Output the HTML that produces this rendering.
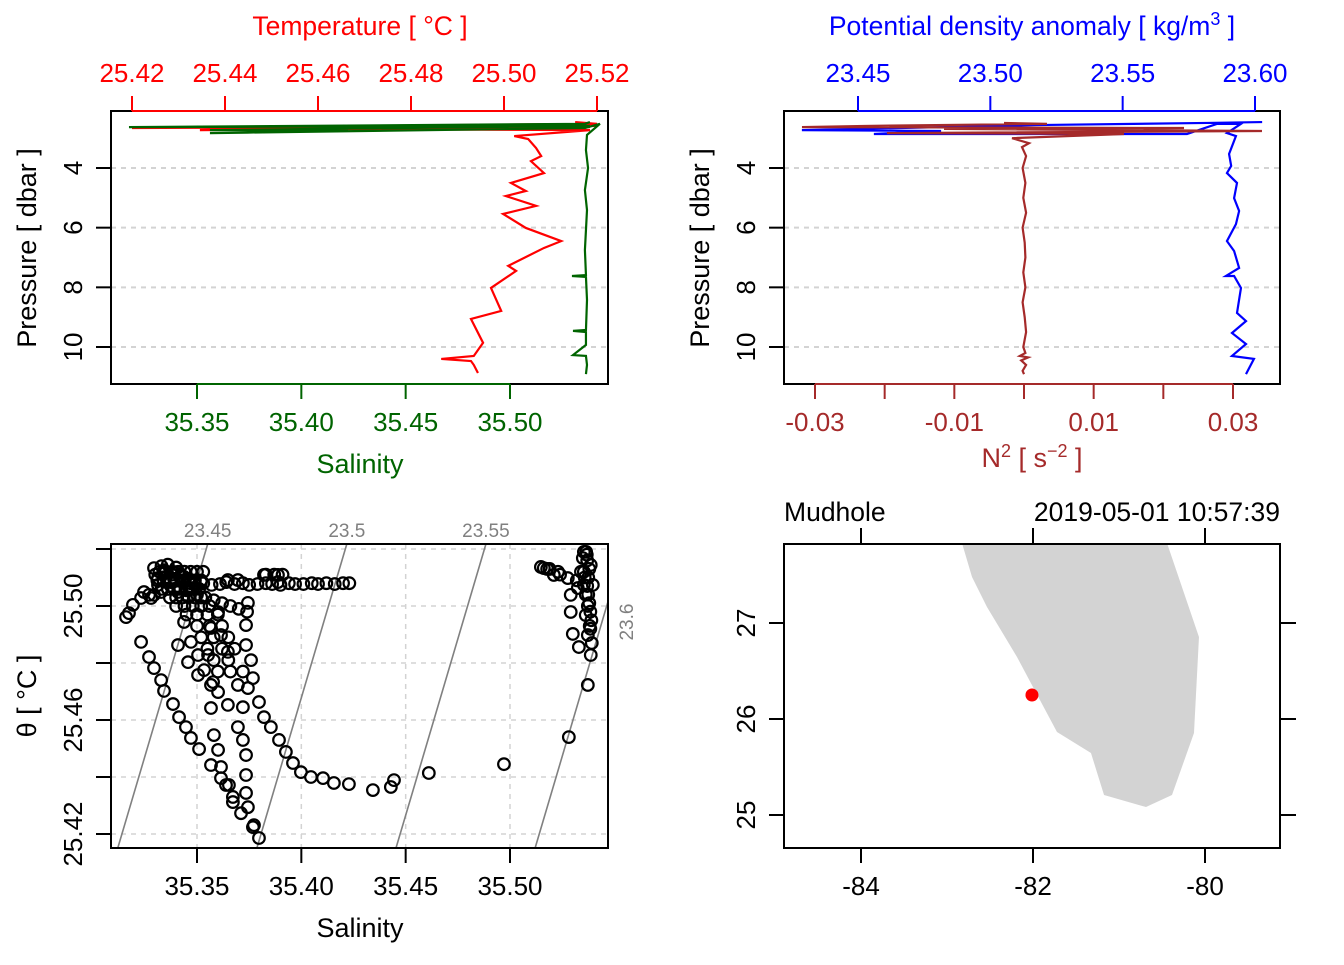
<!DOCTYPE html>
<html><head><meta charset="utf-8"><style>
html,body{margin:0;padding:0;background:#fff}
svg text{font-family:"Liberation Sans",Arial,sans-serif}
</style></head><body>
<svg id="s" width="1344" height="960" viewBox="0 0 1344 960" xmlns="http://www.w3.org/2000/svg"></svg>
<script>
// ---- Panel 1 data: temperature & salinity profiles ----
const tPres=[2.46,2.52,2.66,2.59,2.73,2.63,2.63,2.56,2.69,2.73,2.93,3.03,3.33,3.60,3.77,4.17,4.50,4.77,4.94,5.27,5.54,6.01,6.45,6.68,7.28,7.45,8.02,8.79,9.06,9.86,10.30,10.40,10.47,10.60,10.87];
const tTemp=[25.5153,25.52,25.42,25.52,25.4346,25.5185,25.4647,25.52,25.4561,25.5185,25.5022,25.5052,25.5069,25.508,25.5058,25.5086,25.5015,25.5047,25.5004,25.5069,25.4998,25.5047,25.5123,25.5086,25.5009,25.5026,25.4972,25.4994,25.4929,25.4955,25.4935,25.4865,25.4929,25.4935,25.4944];
const sPres=[2.46,2.52,2.63,2.59,2.73,2.76,2.83,2.66,2.52,2.89,3.40,4.00,4.74,5.41,6.08,6.75,7.59,7.62,7.65,8.42,9.43,9.46,9.50,9.93,10.27,10.30,10.60,10.91];
const sSal=[35.5383,35.5359,35.3174,35.5383,35.3562,35.4224,35.3562,35.5359,35.5431,35.5369,35.5364,35.5374,35.5359,35.5369,35.5364,35.5359,35.5364,35.5297,35.5364,35.5369,35.5364,35.5302,35.5364,35.5364,35.5302,35.5364,35.5369,35.5364];
const tTicks=[25.42,25.44,25.46,25.48,25.50,25.52];
const sTicks=[35.35,35.40,35.45,35.50];
const pTicks=[4,6,8,10];
// ---- Panel 2 data: density & N2 ----
const dPres=[2.46,2.49,2.56,2.73,2.76,2.86,2.86,2.52,2.52,2.83,2.93,3.53,3.93,4.17,4.50,5.01,5.44,5.88,6.45,6.78,7.35,7.62,7.62,8.02,8.86,9.13,9.53,9.90,10.30,10.40,10.91];
const dSig=[23.6027,23.5819,23.5176,23.4288,23.4814,23.4560,23.5743,23.5857,23.5947,23.5894,23.5928,23.5902,23.5910,23.5894,23.5932,23.5921,23.5940,23.5928,23.5894,23.5921,23.5940,23.5890,23.5921,23.5947,23.5932,23.5966,23.5913,23.5966,23.5913,23.5996,23.5966];
const nPres=[2.49,2.52,2.59,2.63,2.66,2.69,2.76,2.83,2.86,3.00,3.17,3.30,3.6,4.0,4.5,5.0,5.5,6.0,6.5,7.0,7.5,8.0,8.5,9.0,9.5,10.0,10.2,10.3,10.35,10.45,10.6,10.8,10.91];
const nN2=[-0.00287,0.0033,-0.02297,-0.03187,0.02297,-0.01148,0.03416,-0.01967,0.01435,-0.00172,0.00072,-0.00029,0.0003,-0.0002,0.0002,-0.0001,0.0003,-0.0002,0.0001,0.0002,-0.0001,0.0002,-0.0002,0.0001,0.0003,-0.0001,0.0002,-0.0006,0.0006,-0.0004,0.0003,-0.0002,0];
const dTicks=[23.45,23.50,23.55,23.60];
const nTicks=[-0.03,-0.02,-0.01,0,0.01,0.02,0.03];
const nLabels=["-0.03","","-0.01","","0.01","","0.03"];
// ---- Panel 3 data: TS scatter ----
const tsSal=[35.316,35.3174,35.3193,35.3232,35.3246,35.327,35.328,35.3294,35.3313,35.3328,35.3342,35.3375,35.339,35.3438,35.3471,35.3409,35.3294,35.3313,
35.3232,35.327,35.3294,35.3328,35.3342,35.3385,35.3414,35.3447,35.3471,35.351,35.3567,35.3615,35.3653,35.3672,35.3711,35.3768,35.3797,
35.3744,35.3735,35.3735,35.3759,35.3768,35.3744,35.372,35.3696,35.372,35.3735,35.3735,35.3735,35.3744,35.3773,
35.3567,35.3553,35.3577,35.3567,35.3581,35.3601,35.3615,35.3639,35.3672,
35.3797,35.3821,35.3854,35.3893,35.3926,35.396,35.3998,35.4046,35.4104,35.4156,35.4228,35.4343,35.4429,35.4444,35.4611,35.4971,35.5282,35.5373,
35.3471,35.3505,35.3534,35.3567,35.3601,35.3648,35.3696,35.3648,35.3615,35.3601,35.3519,35.3648,35.3696,35.3821,35.3888,35.3888,35.3438,35.3409,35.3457,35.3505,
35.349,35.353,35.357,35.361,35.364,35.368,35.372,35.375,35.379,35.383,35.386,35.390,35.394,35.397,35.401,35.405,35.408,35.412,35.416,35.420,35.423,
35.3330,35.3360,35.3400,35.3440,35.3300,35.3340,35.3380,35.3420,35.3460,35.3350,35.3390,35.3430,35.3470,35.3360,35.3410,35.3450,35.3500,35.3540,35.3580,35.3620,35.3660,35.3700,35.3740,
35.5148,35.5162,35.521,35.5277,35.5354,35.5349,35.5354,35.5363,35.5373,35.5387,35.5291,35.5291,35.5301,35.5325,35.5387,35.5397,35.533,35.5354,35.5363,35.5373,35.5382,35.5392,35.5368,35.5358,35.5178,35.5240,
35.332,35.335,35.338,35.341,35.344,35.347,35.350,35.353,
35.331,35.334,35.337,35.340,35.343,35.346,35.349,35.352,
35.333,35.336,35.339,35.342,35.345,35.348,35.351,
35.337,35.340,35.343,35.346,35.349,35.352,
35.340,35.344,35.348,35.352,35.356,
35.345,35.350,35.355,35.360,35.350,35.356,35.362,35.352,35.358,35.365,35.355,35.362,35.368,35.358,35.365,35.360,35.366,35.372,
35.5365,35.537,35.538,35.5375,35.537,35.5375,35.538,35.5385,35.539,35.5385,35.534,35.532,35.519,35.523,
35.383,35.387,35.391];
const tsTheta=[25.4961,25.4975,25.5004,25.5028,25.5049,25.5039,25.5028,25.5133,25.5098,25.5049,25.5126,25.5084,25.5119,25.5102,25.5063,25.5049,25.5039,25.5074,
25.4874,25.4821,25.4782,25.474,25.4702,25.4656,25.461,25.4575,25.4537,25.4498,25.4442,25.4396,25.4372,25.4312,25.4273,25.4224,25.4186,
25.5011,25.4933,25.4863,25.481,25.4747,25.4712,25.4645,25.4575,25.453,25.4477,25.4407,25.4344,25.4294,25.4231,
25.4923,25.4828,25.4733,25.4642,25.4547,25.4495,25.4435,25.4372,25.433,
25.4663,25.461,25.4575,25.453,25.4488,25.4449,25.4417,25.44,25.4396,25.4379,25.4375,25.4354,25.4365,25.4389,25.4414,25.4445,25.454,25.4723,
25.4874,25.4828,25.4775,25.4723,25.4698,25.4653,25.4723,25.4839,25.4898,25.4979,25.5084,25.5091,25.5091,25.5109,25.5109,25.5084,25.4944,25.4863,25.4803,25.4758,
25.5077,25.5080,25.5074,25.5077,25.5084,25.5077,25.5080,25.5074,25.5077,25.5080,25.5077,25.5074,25.5080,25.5077,25.5077,25.5080,25.5077,25.5080,25.5077,25.5080,25.5080,
25.5140,25.5145,25.5135,25.5120,25.5110,25.5115,25.5110,25.5105,25.5095,25.5100,25.5095,25.5085,25.5080,25.5060,25.5060,25.5055,25.5040,25.5030,25.5020,25.5010,25.5000,25.4990,25.4980,
25.5137,25.5133,25.5109,25.5098,25.519,25.5168,25.5074,25.4968,25.4898,25.4828,25.5039,25.4979,25.4902,25.5063,25.5144,25.5074,25.4856,25.5120,25.5040,25.5000,25.4930,25.4870,25.5180,25.5100,25.5130,25.5110,
25.512,25.512,25.512,25.512,25.512,25.512,25.512,25.512,
25.509,25.509,25.509,25.509,25.509,25.509,25.509,25.509,
25.506,25.506,25.506,25.506,25.506,25.506,25.506,
25.503,25.503,25.503,25.503,25.503,25.503,
25.500,25.500,25.500,25.500,25.500,
25.497,25.497,25.497,25.497,25.493,25.493,25.493,25.489,25.489,25.489,25.485,25.485,25.485,25.481,25.481,25.477,25.477,25.477,
25.519,25.516,25.513,25.510,25.507,25.504,25.501,25.498,25.495,25.492,25.512,25.509,25.513,25.512,
25.511,25.511,25.511];
const isoLevels=[23.45,23.5,23.55,23.6];
const isoLabels=["23.45","23.5","23.55","23.6"];
const thTicks=[25.42,25.44,25.46,25.48,25.50,25.52];
const thLabels=["25.42","","25.46","","25.50",""];
// ---- Panel 4 data: map ----
const landLon=[-82.90,-82.826,-82.709,-82.535,-82.186,-81.721,-81.326,-81.174,-80.686,-80.384,-80.128,-80.070,-80.442,-80.40];
const landLat=[28.5,27.833,27.479,27.167,26.646,25.865,25.646,25.208,25.083,25.208,25.854,26.854,27.833,28.5];
const stationLon=[-82.012];
const stationLat=[26.25];
const lonTicks=[-84,-82,-80];
const latTicks=[25,26,27];

const NS="http://www.w3.org/2000/svg";
const svg=document.getElementById('s');
function mk(tag,attrs,parent){const e=document.createElementNS(NS,tag);for(const k in attrs)e.setAttribute(k,attrs[k]);(parent||svg).appendChild(e);return e;}
function txt(str,x,y,opt,parent){const e=mk('text',{x:x,y:y,'font-size':opt.size||26,fill:opt.fill||'#000','text-anchor':opt.anchor||'middle'},parent);if(opt.rot!==undefined)e.setAttribute('transform','rotate('+opt.rot+' '+x+' '+y+')');e.textContent=str;return e;}
function lin(d0,d1,r0,r1){return v=>r0+(v-d0)*(r1-r0)/(d1-d0);}

const yP=lin(4,10,168,347);

// ================= Panel 1 =================
const g1=mk('g',{});


const xT=lin(25.42,25.52,132,597), xS=lin(35.35,35.50,197,510);
const clip1=mk('clipPath',{id:'c1'},g1);mk('rect',{x:111,y:111,width:497,height:273},clip1);
pTicks.forEach(p=>{const l=mk('line',{x1:111,x2:608,y1:yP(p),y2:yP(p),stroke:'#d3d3d3','stroke-width':2,'stroke-dasharray':'5,5'},g1);});
let pts=tPres.map((p,i)=>xT(tTemp[i])+','+yP(p)).join(' ');
let pl=mk('polyline',{points:pts,fill:'none',stroke:'#ff0000','stroke-width':2.2,'clip-path':'url(#c1)'},g1);

pts=sPres.map((p,i)=>xS(sSal[i])+','+yP(p)).join(' ');
pl=mk('polyline',{points:pts,fill:'none',stroke:'#006400','stroke-width':2.2,'clip-path':'url(#c1)'},g1);

let r=mk('rect',{x:111,y:111,width:497,height:273,fill:'none',stroke:'#000','stroke-width':2},g1);

mk('line',{x1:xT(tTicks[0]),x2:xT(tTicks[tTicks.length-1]),y1:111,y2:111,stroke:'#ff0000','stroke-width':2},g1);
tTicks.forEach(t=>{mk('line',{x1:xT(t),x2:xT(t),y1:111,y2:96,stroke:'#ff0000','stroke-width':2},g1);const e=txt(t.toFixed(2),xT(t),82,{fill:'#ff0000'},g1);});
let e=txt('Temperature [ °C ]',360,35,{fill:'#ff0000',size:26.5},g1);
mk('line',{x1:xS(sTicks[0]),x2:xS(sTicks[sTicks.length-1]),y1:384,y2:384,stroke:'#006400','stroke-width':2},g1);
sTicks.forEach(s=>{mk('line',{x1:xS(s),x2:xS(s),y1:384,y2:399,stroke:'#006400','stroke-width':2},g1);const e=txt(s.toFixed(2),xS(s),431,{fill:'#006400'},g1);});
e=txt('Salinity',360,473,{fill:'#006400',size:27},g1);
pTicks.forEach(p=>{mk('line',{x1:111,x2:96,y1:yP(p),y2:yP(p),stroke:'#000','stroke-width':2},g1);const e=txt(String(p),82,yP(p),{rot:-90},g1);});
e=txt('Pressure [ dbar ]',36,248,{rot:-90,size:27},g1);

// ================= Panel 2 =================
const g2=mk('g',{});


const xD=lin(23.45,23.60,858,1255), xN=lin(-0.03,0.03,815,1233);
const clip2=mk('clipPath',{id:'c2'},g2);mk('rect',{x:784,y:111,width:496,height:273},clip2);
pTicks.forEach(p=>{const l=mk('line',{x1:784,x2:1280,y1:yP(p),y2:yP(p),stroke:'#d3d3d3','stroke-width':2,'stroke-dasharray':'5,5'},g2);});
pts=dPres.map((p,i)=>xD(dSig[i])+','+yP(p)).join(' ');
pl=mk('polyline',{points:pts,fill:'none',stroke:'#0000ff','stroke-width':2.2,'clip-path':'url(#c2)'},g2);

pts=nPres.map((p,i)=>xN(nN2[i])+','+yP(p)).join(' ');
pl=mk('polyline',{points:pts,fill:'none',stroke:'#a52a2a','stroke-width':2.2,'clip-path':'url(#c2)'},g2);

r=mk('rect',{x:784,y:111,width:496,height:273,fill:'none',stroke:'#000','stroke-width':2},g2);

mk('line',{x1:xD(dTicks[0]),x2:xD(dTicks[dTicks.length-1]),y1:111,y2:111,stroke:'#0000ff','stroke-width':2},g2);
dTicks.forEach(t=>{mk('line',{x1:xD(t),x2:xD(t),y1:111,y2:96,stroke:'#0000ff','stroke-width':2},g2);const e=txt(t.toFixed(2),xD(t),82,{fill:'#0000ff'},g2);});
e=mk('text',{x:1032,y:35,'font-size':26.5,fill:'#0000ff','text-anchor':'middle'},g2);e.innerHTML='Potential density anomaly [ kg/m<tspan dy="-10" font-size="18">3</tspan><tspan dy="10"> ]</tspan>';

mk('line',{x1:xN(nTicks[0]),x2:xN(nTicks[nTicks.length-1]),y1:384,y2:384,stroke:'#a52a2a','stroke-width':2},g2);
nTicks.forEach((t,i)=>{mk('line',{x1:xN(t),x2:xN(t),y1:384,y2:399,stroke:'#a52a2a','stroke-width':2},g2);if(nLabels[i]){const e=txt(nLabels[i],xN(t),431,{fill:'#a52a2a'},g2);}});
e=mk('text',{x:1032,y:467,'font-size':27,fill:'#a52a2a','text-anchor':'middle'},g2);e.innerHTML='N<tspan dy="-10" font-size="18">2</tspan><tspan dy="10"> [ s</tspan><tspan dy="-10" font-size="18">−2</tspan><tspan dy="10"> ]</tspan>';

pTicks.forEach(p=>{mk('line',{x1:784,x2:769,y1:yP(p),y2:yP(p),stroke:'#000','stroke-width':2},g2);const e=txt(String(p),755,yP(p),{rot:-90},g2);});
e=txt('Pressure [ dbar ]',709,248,{rot:-90,size:27},g2);

// ================= Panel 3 =================
const g3=mk('g',{});


const yTh=lin(25.50,25.42,606,834);
const clip3=mk('clipPath',{id:'c3'},g3);mk('rect',{x:111,y:544,width:497,height:304},clip3);
sTicks.forEach(s=>{const l=mk('line',{x1:xS(s),x2:xS(s),y1:544,y2:848,stroke:'#d3d3d3','stroke-width':1.5,'stroke-dasharray':'5,5'},g3);});
thTicks.forEach(t=>{const l=mk('line',{x1:111,x2:608,y1:yTh(t),y2:yTh(t),stroke:'#d3d3d3','stroke-width':1.5,'stroke-dasharray':'5,5'},g3);});
function sAt(sig,T){return 35.312+(sig-23.45+0.303*(T-25.415))/0.75;}
const Tlo=25.50-(848-606)*0.08/228, Thi=25.50+(606-544)*0.08/228;
isoLevels.forEach((sg,i)=>{const l=mk('line',{x1:xS(sAt(sg,Tlo)),y1:848,x2:xS(sAt(sg,Thi)),y2:544,stroke:'#808080','stroke-width':1.6,'clip-path':'url(#c3)'},g3);
 const xt=xS(sAt(sg,Thi));let e;
 if(xt<600){e=txt(isoLabels[i],xt,537,{fill:'#808080',size:19},g3);}else{const Tr=25.415+(0.75*(35.5435-35.312)-(sg-23.45))/0.303;e=txt(isoLabels[i],633,yTh(Tr)-4,{fill:'#808080',size:19,rot:-90},g3);}
 });
tsSal.forEach((s,i)=>{const c=mk('circle',{cx:xS(s),cy:yTh(tsTheta[i]),r:5.8,fill:'none',stroke:'#000','stroke-width':2.2,'clip-path':'url(#c3)'},g3);});
r=mk('rect',{x:111,y:544,width:497,height:304,fill:'none',stroke:'#000','stroke-width':2},g3);

sTicks.forEach(s=>{mk('line',{x1:xS(s),x2:xS(s),y1:848,y2:863,stroke:'#000','stroke-width':2},g3);const e=txt(s.toFixed(2),xS(s),895,{},g3);});
e=txt('Salinity',360,937,{size:27},g3);
thTicks.forEach((t,i)=>{mk('line',{x1:111,x2:96,y1:yTh(t),y2:yTh(t),stroke:'#000','stroke-width':2},g3);if(thLabels[i]){const e=txt(thLabels[i],82,yTh(t),{rot:-90},g3);}});
e=txt('θ [ °C ]',36,696,{rot:-90,size:27},g3);

// ================= Panel 4 =================
const g4=mk('g',{});


const xL=lin(-84,-80,861,1205), yL=lin(25,27,815,623);
const clip4=mk('clipPath',{id:'c4'},g4);mk('rect',{x:784,y:544,width:496,height:304},clip4);
const poly=mk('polygon',{points:landLon.map((l,i)=>xL(l)+','+yL(landLat[i])).join(' '),fill:'#d3d3d3',stroke:'none','clip-path':'url(#c4)'},g4);

stationLon.forEach((l,i)=>{const c=mk('circle',{cx:xL(l),cy:yL(stationLat[i]),r:6.5,fill:'#ff0000'},g4);});
r=mk('rect',{x:784,y:544,width:496,height:304,fill:'none',stroke:'#000','stroke-width':2},g4);

lonTicks.forEach(l=>{mk('line',{x1:xL(l),x2:xL(l),y1:848,y2:863,stroke:'#000','stroke-width':2},g4);mk('line',{x1:xL(l),x2:xL(l),y1:544,y2:528,stroke:'#000','stroke-width':2},g4);const e=txt(String(l),xL(l),895,{},g4);});
latTicks.forEach(l=>{mk('line',{x1:784,x2:769,y1:yL(l),y2:yL(l),stroke:'#000','stroke-width':2},g4);mk('line',{x1:1280,x2:1296,y1:yL(l),y2:yL(l),stroke:'#000','stroke-width':2},g4);const e=txt(String(l),755,yL(l),{rot:-90},g4);});
e=txt('Mudhole',784,521,{anchor:'start',size:26.5},g4);
e=txt('2019-05-01 10:57:39',1280,521,{anchor:'end',size:26.5},g4);
</script>
</body></html>
